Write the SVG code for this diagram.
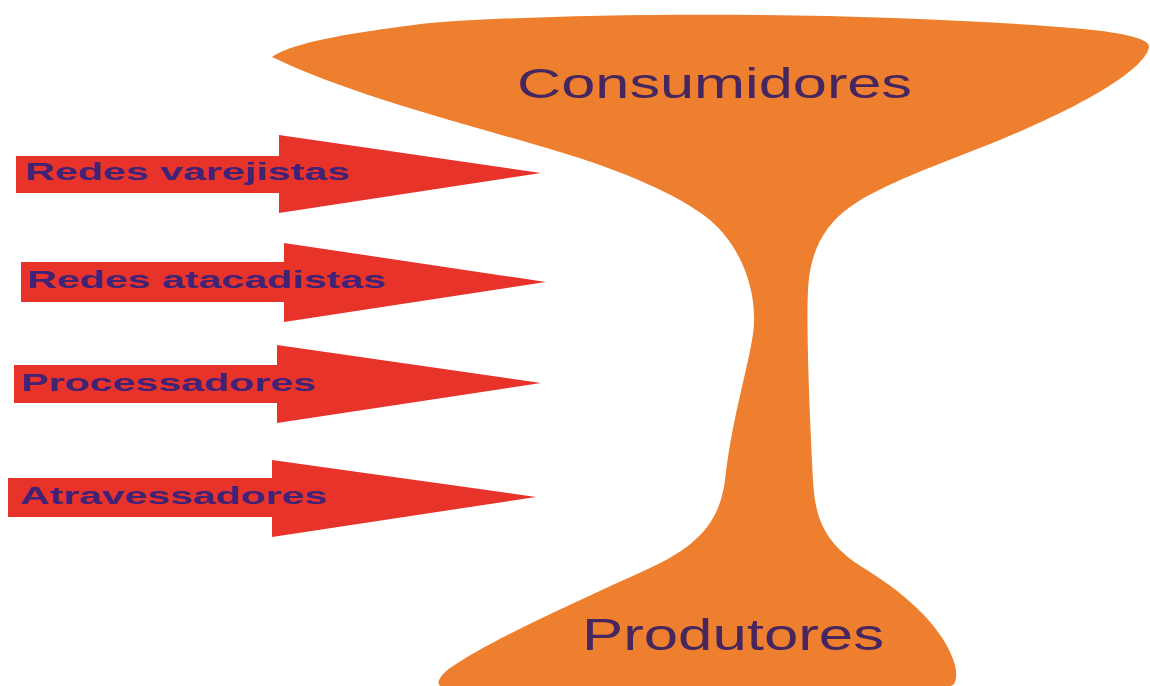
<svg xmlns="http://www.w3.org/2000/svg" width="1150" height="686" viewBox="0 0 1150 686">
<style>
.shape{fill:#ee7f2e}
.arrow{fill:#e8332b}
.big{font-family:"Liberation Sans",Arial,sans-serif;fill:#46265f}
.lbl{font-family:"Liberation Sans",Arial,sans-serif;font-weight:bold;font-size:24px;fill:#402276}
</style>
<rect width="1150" height="686" fill="#ffffff"/>
<g id="funnel">
<path class="shape" d="M 272 57 C 290 45, 330 35, 430 23 C 600 10, 900 12, 1093 30 C 1130 34, 1150 40, 1149 47 C 1147 60, 1120 90, 1000 140 C 940 164, 880 185, 850 207 C 825 225, 810 250, 808 290 C 806 330, 810 420, 813 480 C 815 520, 825 545, 867 570 C 910 597, 945 630, 955 665 C 958 678, 955 686, 950 686 L 442 686 C 436 686, 437 678, 450 668 C 490 640, 580 600, 650 568 C 700 545, 720 520, 725 480 C 732 420, 745 380, 752 340 C 760 300, 745 250, 710 220 C 680 195, 620 170, 560 152 C 470 125, 350 95, 272 57 Z"/>
</g>
<g id="consumidores">
<text class="big" x="517" y="98" font-size="42" textLength="395" lengthAdjust="spacingAndGlyphs">Consumidores</text>
</g>
<g id="produtores">
<text class="big" x="582" y="650" font-size="45" textLength="302" lengthAdjust="spacingAndGlyphs">Produtores</text>
</g>
<g id="connectors">
<g id="arrow-varejistas">
<polygon class="arrow" points="16,156 279,156 279,135 541,173 279,213 279,193 16,193"/>
<text class="lbl" x="25" y="180" textLength="325" lengthAdjust="spacingAndGlyphs">Redes varejistas</text>
</g>
<g id="arrow-atacadistas">
<polygon class="arrow" points="21,262 284,262 284,243 546,282 284,322 284,302 21,302"/>
<text class="lbl" x="27" y="288" textLength="359" lengthAdjust="spacingAndGlyphs">Redes atacadistas</text>
</g>
<g id="arrow-processadores">
<polygon class="arrow" points="14,365 277,365 277,345 541,383 277,423 277,403 14,403"/>
<text class="lbl" x="21" y="391" textLength="295" lengthAdjust="spacingAndGlyphs">Processadores</text>
</g>
<g id="arrow-atravessadores">
<polygon class="arrow" points="8,478 272,478 272,460 536,497 272,537 272,517 8,517"/>
<text class="lbl" x="20" y="504" textLength="307" lengthAdjust="spacingAndGlyphs">Atravessadores</text>
</g>
</g>
</svg>
